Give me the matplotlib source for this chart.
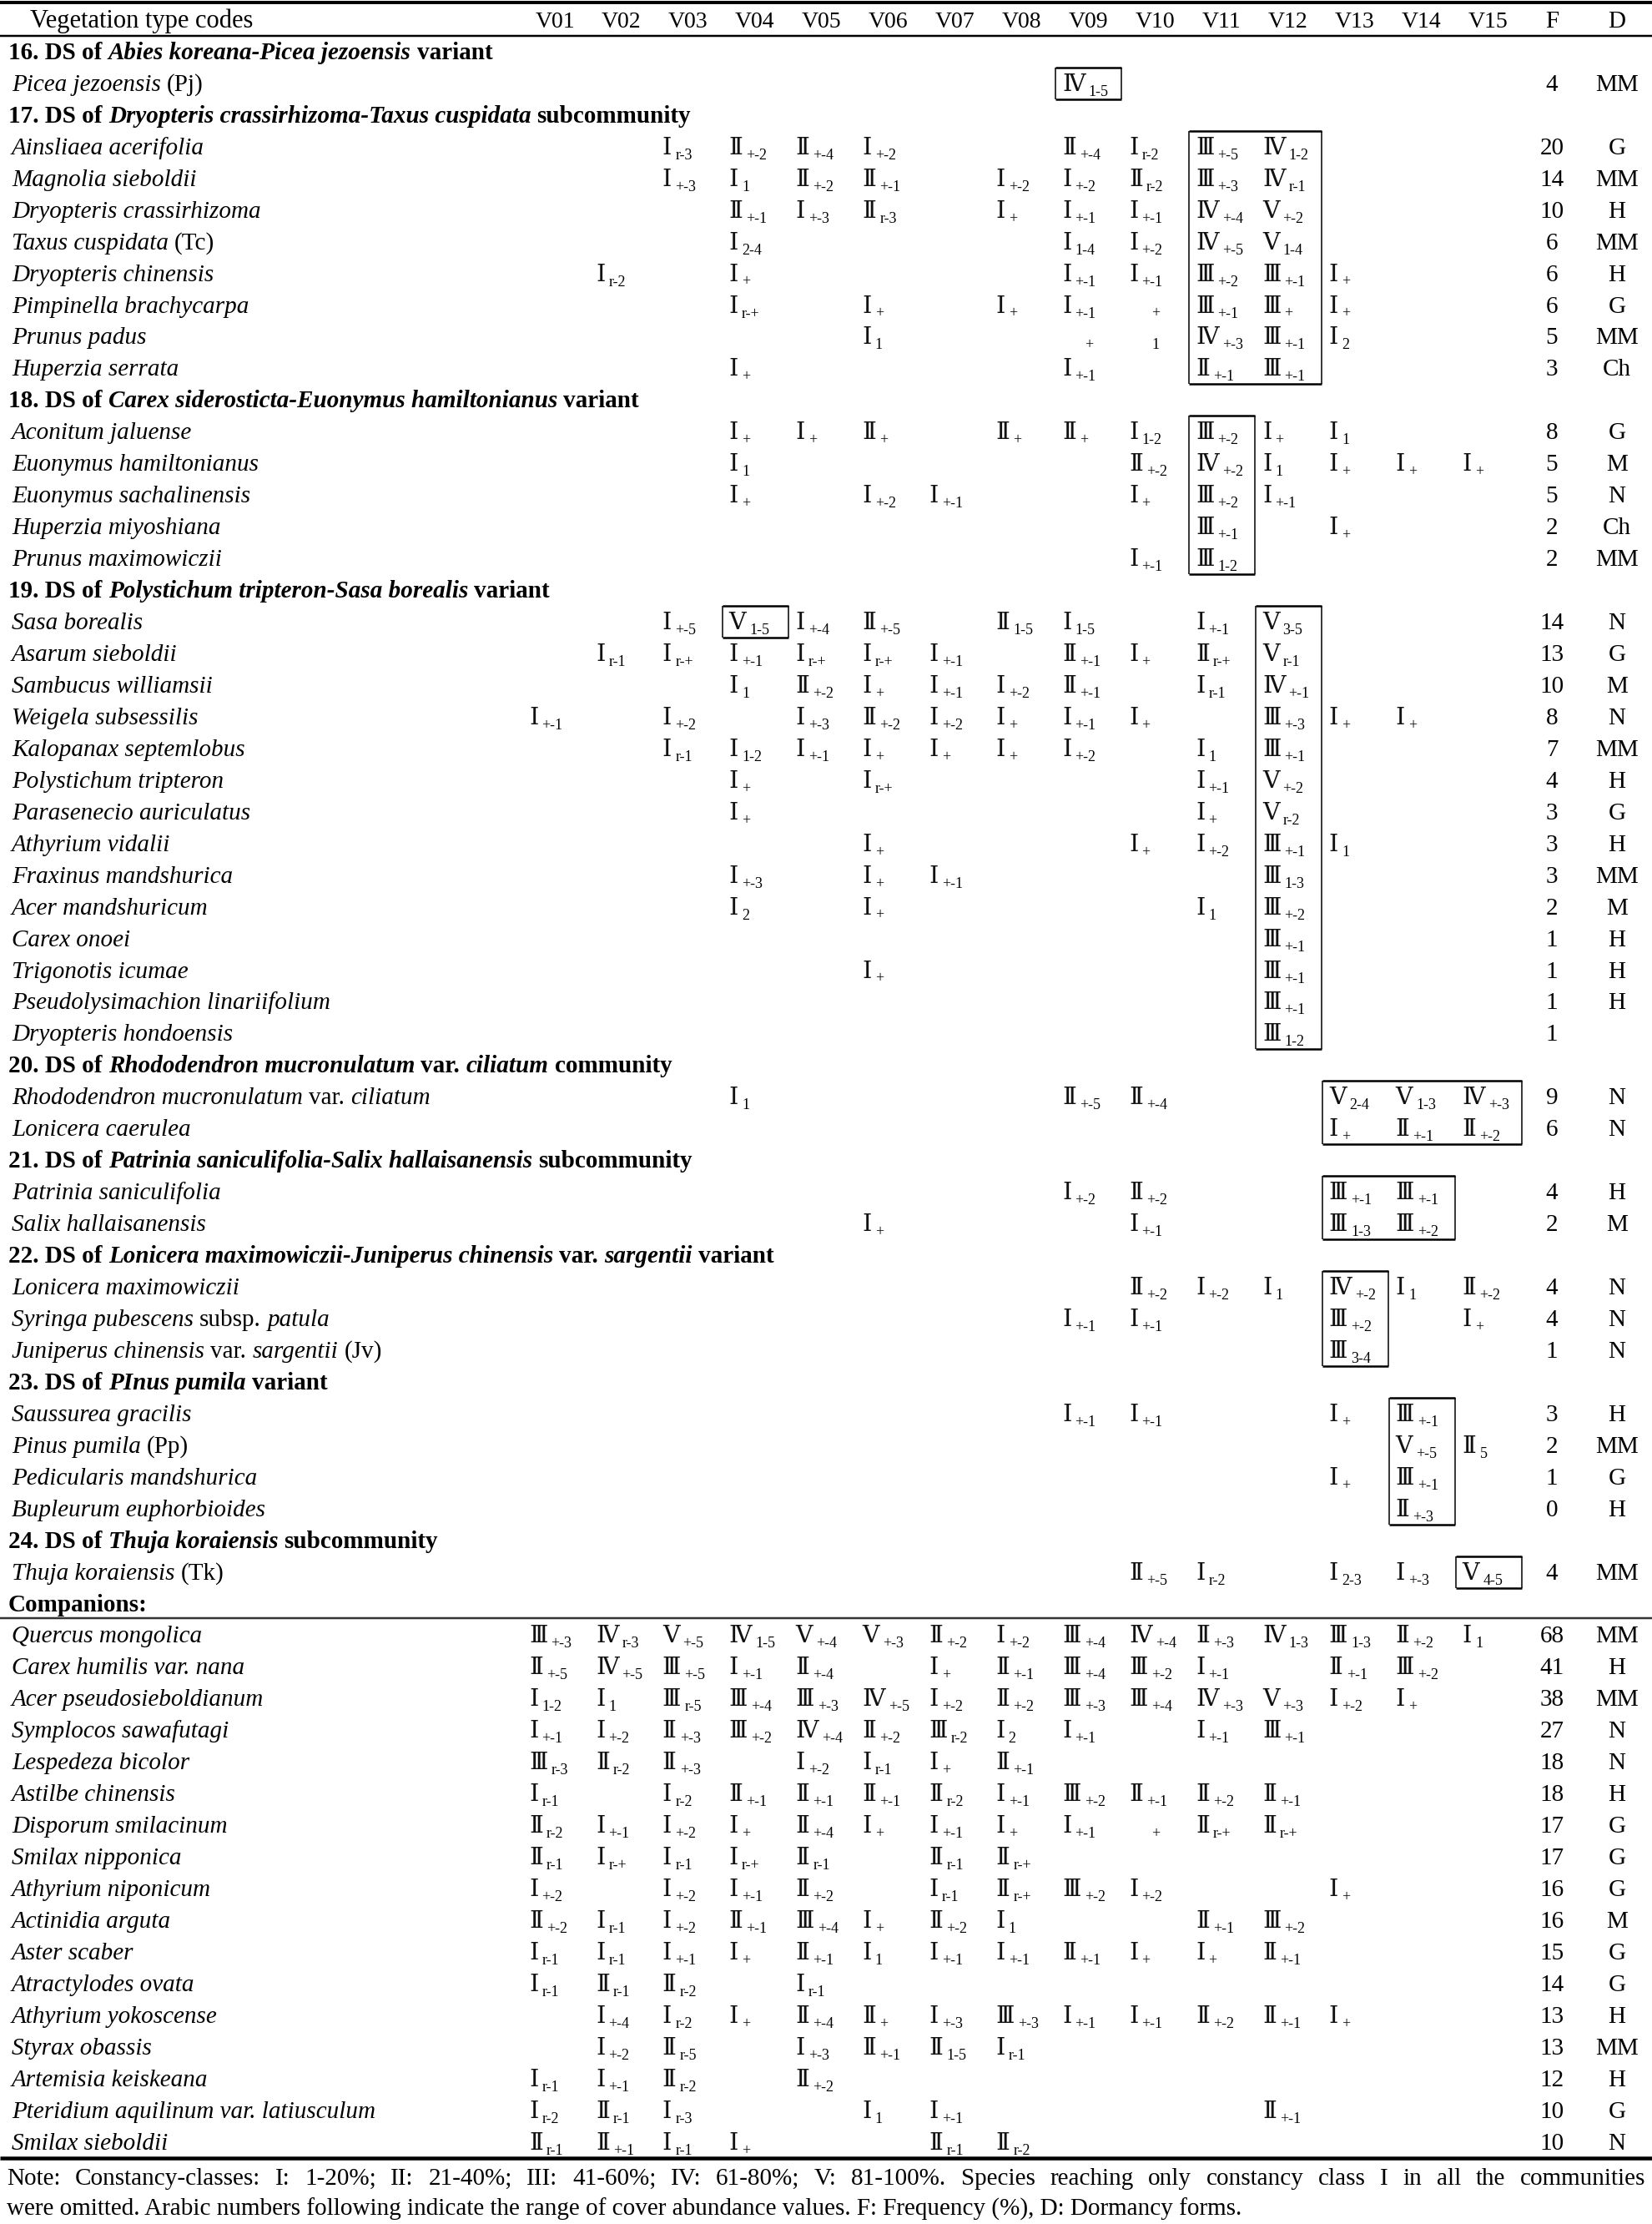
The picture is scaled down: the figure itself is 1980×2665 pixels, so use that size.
import matplotlib
matplotlib.use("Agg")
import matplotlib.pyplot as plt

# ---------------- data ----------------
columns = ["V01", "V02", "V03", "V04", "V05", "V06", "V07", "V08",
           "V09", "V10", "V11", "V12", "V13", "V14", "V15"]
header_label = "Vegetation type codes"
extra_columns = ["F", "D"]

# '§' marks a section title; '*' toggles italic
row_labels = [
    "§16. DS of *Abies koreana-Picea jezoensis* variant",
    "*Picea jezoensis* (Pj)",
    "§17. DS of *Dryopteris crassirhizoma-Taxus cuspidata* subcommunity",
    "*Ainsliaea acerifolia*",
    "*Magnolia sieboldii*",
    "*Dryopteris crassirhizoma*",
    "*Taxus cuspidata* (Tc)",
    "*Dryopteris chinensis*",
    "*Pimpinella brachycarpa*",
    "*Prunus padus*",
    "*Huperzia serrata*",
    "§18. DS of *Carex siderosticta-Euonymus hamiltonianus* variant",
    "*Aconitum jaluense*",
    "*Euonymus hamiltonianus*",
    "*Euonymus sachalinensis*",
    "*Huperzia miyoshiana*",
    "*Prunus maximowiczii*",
    "§19. DS of *Polystichum tripteron-Sasa borealis* variant",
    "*Sasa borealis*",
    "*Asarum sieboldii*",
    "*Sambucus williamsii*",
    "*Weigela subsessilis*",
    "*Kalopanax septemlobus*",
    "*Polystichum tripteron*",
    "*Parasenecio auriculatus*",
    "*Athyrium vidalii*",
    "*Fraxinus mandshurica*",
    "*Acer mandshuricum*",
    "*Carex onoei*",
    "*Trigonotis icumae*",
    "*Pseudolysimachion linariifolium*",
    "*Dryopteris hondoensis*",
    "§20. DS of *Rhododendron mucronulatum* var. *ciliatum* community",
    "*Rhododendron mucronulatum* var. *ciliatum*",
    "*Lonicera caerulea*",
    "§21. DS of *Patrinia saniculifolia-Salix hallaisanensis* subcommunity",
    "*Patrinia saniculifolia*",
    "*Salix hallaisanensis*",
    "§22. DS of *Lonicera maximowiczii-Juniperus chinensis* var. *sargentii* variant",
    "*Lonicera maximowiczii*",
    "*Syringa pubescens* subsp. *patula*",
    "*Juniperus chinensis* var. *sargentii* (Jv)",
    "§23. DS of *PInus pumila* variant",
    "*Saussurea gracilis*",
    "*Pinus pumila* (Pp)",
    "*Pedicularis mandshurica*",
    "*Bupleurum euphorbioides*",
    "§24. DS of *Thuja koraiensis* subcommunity",
    "*Thuja koraiensis* (Tk)",
    "§Companions:",
    "*Quercus mongolica*",
    "*Carex humilis var. nana*",
    "*Acer pseudosieboldianum*",
    "*Symplocos sawafutagi*",
    "*Lespedeza bicolor*",
    "*Astilbe chinensis*",
    "*Disporum smilacinum*",
    "*Smilax nipponica*",
    "*Athyrium niponicum*",
    "*Actinidia arguta*",
    "*Aster scaber*",
    "*Atractylodes ovata*",
    "*Athyrium yokoscense*",
    "*Styrax obassis*",
    "*Artemisia keiskeana*",
    "*Pteridium aquilinum var. latiusculum*",
    "*Smilax sieboldii*",
]

# constancy class + cover range per vegetation type ('_' = no class shown)
row_cells = [
    None,
    "V09=IV 1-5",
    None,
    "V03=I r-3; V04=II +-2; V05=II +-4; V06=I +-2; V09=II +-4; V10=I r-2; V11=III +-5; V12=IV 1-2",
    "V03=I +-3; V04=I 1; V05=II +-2; V06=II +-1; V08=I +-2; V09=I +-2; V10=II r-2; V11=III +-3; V12=IV r-1",
    "V04=II +-1; V05=I +-3; V06=II r-3; V08=I +; V09=I +-1; V10=I +-1; V11=IV +-4; V12=V +-2",
    "V04=I 2-4; V09=I 1-4; V10=I +-2; V11=IV +-5; V12=V 1-4",
    "V02=I r-2; V04=I +; V09=I +-1; V10=I +-1; V11=III +-2; V12=III +-1; V13=I +",
    "V04=I r-+; V06=I +; V08=I +; V09=I +-1; V10=_ +; V11=III +-1; V12=III +; V13=I +",
    "V06=I 1; V09=_ +; V10=_ 1; V11=IV +-3; V12=III +-1; V13=I 2",
    "V04=I +; V09=I +-1; V11=II +-1; V12=III +-1",
    None,
    "V04=I +; V05=I +; V06=II +; V08=II +; V09=II +; V10=I 1-2; V11=III +-2; V12=I +; V13=I 1",
    "V04=I 1; V10=II +-2; V11=IV +-2; V12=I 1; V13=I +; V14=I +; V15=I +",
    "V04=I +; V06=I +-2; V07=I +-1; V10=I +; V11=III +-2; V12=I +-1",
    "V11=III +-1; V13=I +",
    "V10=I +-1; V11=III 1-2",
    None,
    "V03=I +-5; V04=V 1-5; V05=I +-4; V06=II +-5; V08=II 1-5; V09=I 1-5; V11=I +-1; V12=V 3-5",
    "V02=I r-1; V03=I r-+; V04=I +-1; V05=I r-+; V06=I r-+; V07=I +-1; V09=II +-1; V10=I +; V11=II r-+; V12=V r-1",
    "V04=I 1; V05=II +-2; V06=I +; V07=I +-1; V08=I +-2; V09=II +-1; V11=I r-1; V12=IV +-1",
    "V01=I +-1; V03=I +-2; V05=I +-3; V06=II +-2; V07=I +-2; V08=I +; V09=I +-1; V10=I +; V12=III +-3; V13=I +; V14=I +",
    "V03=I r-1; V04=I 1-2; V05=I +-1; V06=I +; V07=I +; V08=I +; V09=I +-2; V11=I 1; V12=III +-1",
    "V04=I +; V06=I r-+; V11=I +-1; V12=V +-2",
    "V04=I +; V11=I +; V12=V r-2",
    "V06=I +; V10=I +; V11=I +-2; V12=III +-1; V13=I 1",
    "V04=I +-3; V06=I +; V07=I +-1; V12=III 1-3",
    "V04=I 2; V06=I +; V11=I 1; V12=III +-2",
    "V12=III +-1",
    "V06=I +; V12=III +-1",
    "V12=III +-1",
    "V12=III 1-2",
    None,
    "V04=I 1; V09=II +-5; V10=II +-4; V13=V 2-4; V14=V 1-3; V15=IV +-3",
    "V13=I +; V14=II +-1; V15=II +-2",
    None,
    "V09=I +-2; V10=II +-2; V13=III +-1; V14=III +-1",
    "V06=I +; V10=I +-1; V13=III 1-3; V14=III +-2",
    None,
    "V10=II +-2; V11=I +-2; V12=I 1; V13=IV +-2; V14=I 1; V15=II +-2",
    "V09=I +-1; V10=I +-1; V13=III +-2; V15=I +",
    "V13=III 3-4",
    None,
    "V09=I +-1; V10=I +-1; V13=I +; V14=III +-1",
    "V14=V +-5; V15=II 5",
    "V13=I +; V14=III +-1",
    "V14=II +-3",
    None,
    "V10=II +-5; V11=I r-2; V13=I 2-3; V14=I +-3; V15=V 4-5",
    None,
    "V01=III +-3; V02=IV r-3; V03=V +-5; V04=IV 1-5; V05=V +-4; V06=V +-3; V07=II +-2; V08=I +-2; V09=III +-4; V10=IV +-4; V11=II +-3; V12=IV 1-3; V13=III 1-3; V14=II +-2; V15=I 1",
    "V01=II +-5; V02=IV +-5; V03=III +-5; V04=I +-1; V05=II +-4; V07=I +; V08=II +-1; V09=III +-4; V10=III +-2; V11=I +-1; V13=II +-1; V14=III +-2",
    "V01=I 1-2; V02=I 1; V03=III r-5; V04=III +-4; V05=III +-3; V06=IV +-5; V07=I +-2; V08=II +-2; V09=III +-3; V10=III +-4; V11=IV +-3; V12=V +-3; V13=I +-2; V14=I +",
    "V01=I +-1; V02=I +-2; V03=II +-3; V04=III +-2; V05=IV +-4; V06=II +-2; V07=III r-2; V08=I 2; V09=I +-1; V11=I +-1; V12=III +-1",
    "V01=III r-3; V02=II r-2; V03=II +-3; V05=I +-2; V06=I r-1; V07=I +; V08=II +-1",
    "V01=I r-1; V03=I r-2; V04=II +-1; V05=II +-1; V06=II +-1; V07=II r-2; V08=I +-1; V09=III +-2; V10=II +-1; V11=II +-2; V12=II +-1",
    "V01=II r-2; V02=I +-1; V03=I +-2; V04=I +; V05=II +-4; V06=I +; V07=I +-1; V08=I +; V09=I +-1; V10=_ +; V11=II r-+; V12=II r-+",
    "V01=II r-1; V02=I r-+; V03=I r-1; V04=I r-+; V05=II r-1; V07=II r-1; V08=II r-+",
    "V01=I +-2; V03=I +-2; V04=I +-1; V05=II +-2; V07=I r-1; V08=II r-+; V09=III +-2; V10=I +-2; V13=I +",
    "V01=II +-2; V02=I r-1; V03=I +-2; V04=II +-1; V05=III +-4; V06=I +; V07=II +-2; V08=I 1; V11=II +-1; V12=III +-2",
    "V01=I r-1; V02=I r-1; V03=I +-1; V04=I +; V05=II +-1; V06=I 1; V07=I +-1; V08=I +-1; V09=II +-1; V10=I +; V11=I +; V12=II +-1",
    "V01=I r-1; V02=II r-1; V03=II r-2; V05=I r-1",
    "V02=I +-4; V03=I r-2; V04=I +; V05=II +-4; V06=II +; V07=I +-3; V08=III +-3; V09=I +-1; V10=I +-1; V11=II +-2; V12=II +-1; V13=I +",
    "V02=I +-2; V03=II r-5; V05=I +-3; V06=II +-1; V07=II 1-5; V08=I r-1",
    "V01=I r-1; V02=I +-1; V03=II r-2; V05=II +-2",
    "V01=I r-2; V02=II r-1; V03=I r-3; V06=I 1; V07=I +-1; V12=II +-1",
    "V01=II r-1; V02=II +-1; V03=I r-1; V04=I +; V07=II r-1; V08=II r-2",
]

row_freq = [None, 4, None, 20, 14, 10, 6, 6, 6, 5, 3, None, 8, 5, 5, 2, 2,
            None, 14, 13, 10, 8, 7, 4, 3, 3, 3, 2, 1, 1, 1, 1,
            None, 9, 6, None, 4, 2, None, 4, 4, 1, None, 3, 2, 1, 0,
            None, 4, None, 68, 41, 38, 27, 18, 18, 17, 17, 16, 16, 15, 14,
            13, 13, 12, 10, 10]
row_dorm = ["", "MM", "", "G", "MM", "H", "MM", "H", "G", "MM", "Ch", "", "G", "M",
            "N", "Ch", "MM", "", "N", "G", "M", "N", "MM", "H", "G", "H", "MM",
            "M", "H", "H", "H", "", "", "N", "N", "", "H", "M", "", "N", "N",
            "N", "", "H", "MM", "G", "H", "", "MM", "", "MM", "H", "MM", "N",
            "N", "H", "G", "G", "G", "M", "G", "G", "H", "MM", "H", "G", "N"]

# diagnostic blocks framed in the table: (first species, last species, first col, last col)
framed_blocks = [
    ("Picea jezoensis", "Picea jezoensis", "V09", "V09"),
    ("Ainsliaea acerifolia", "Huperzia serrata", "V11", "V12"),
    ("Aconitum jaluense", "Prunus maximowiczii", "V11", "V11"),
    ("Sasa borealis", "Sasa borealis", "V04", "V04"),
    ("Sasa borealis", "Dryopteris hondoensis", "V12", "V12"),
    ("Rhododendron mucronulatum", "Lonicera caerulea", "V13", "V15"),
    ("Patrinia saniculifolia", "Salix hallaisanensis", "V13", "V14"),
    ("Lonicera maximowiczii", "Juniperus chinensis", "V13", "V13"),
    ("Saussurea gracilis", "Bupleurum euphorbioides", "V14", "V14"),
    ("Thuja koraiensis", "Thuja koraiensis", "V15", "V15"),
]

note_line1 = ("Note: Constancy-classes: I: 1-20%; II: 21-40%; III: 41-60%; IV: 61-80%; "
              "V: 81-100%. Species reaching only constancy class I in all the communities")
note_line2 = ("were omitted. Arabic numbers following indicate the range of cover "
              "abundance values. F: Frequency (%), D: Dormancy forms.")

ROMAN = {"I": "\u2160", "II": "\u2161", "III": "\u2162", "IV": "\u2163", "V": "\u2164"}

# ---------------- layout ----------------
W, H, DPI = 1980, 2665, 100
SERIF = ["Liberation Serif", "DejaVu Serif"]
NUMF = ["Liberation Serif", "DejaVu Serif", "Noto Sans CJK KR"]
FS, SUBFS = 21, 13
X_LABEL = 14
COL0, COLSTEP = 665, 79.9
F_X, D_X = 1860, 1938
Y0, ROWSTEP = 24, 37.95
BASE = 9  # baseline offset below row centre

fig = plt.figure(figsize=(W / DPI, H / DPI), dpi=DPI)
ax = fig.add_axes([0, 0, 1, 1])
ax.set_xlim(0, W)
ax.set_ylim(H, 0)
ax.axis("off")
renderer = fig.canvas.get_renderer()


def col_x(name):
    return COL0 + COLSTEP * columns.index(name)


def row_y(k):
    return Y0 + ROWSTEP * k


def width_of(s, **kw):
    t = ax.text(0, 0, s, **kw)
    w = t.get_window_extent(renderer).width
    t.remove()
    return w


def draw_segments(x, y, text, bold):
    segs, buf, ital = [], "", False
    for ch in text:
        if ch == "*":
            if buf:
                segs.append((buf, ital))
            buf, ital = "", not ital
        else:
            buf += ch
    if buf:
        segs.append((buf, ital))
    weight = "bold" if bold else "normal"
    for s, it in segs:
        style = "italic" if it else "normal"
        kw = dict(fontsize=FS, family=SERIF, fontstyle=style, fontweight=weight)
        sp = width_of("n n", **kw) - width_of("nn", **kw)
        lead = len(s) - len(s.lstrip(" "))
        trail = len(s) - len(s.rstrip(" "))
        x += lead * sp
        core = s.strip(" ")
        if core:
            t = ax.text(x, y, core, va="baseline", ha="left", color="black", **kw)
            x = t.get_window_extent(renderer).x1
        x += trail * sp
    return x


def draw_cell(cx, y, val):
    num, sub = val.split(" ", 1)
    left = cx - 31
    if num == "_":
        ax.text(left + 27, y + 6, sub, fontsize=SUBFS, family=SERIF,
                va="baseline", ha="left")
        return
    t = ax.text(left, y, ROMAN[num], fontsize=FS - 0.5, family=NUMF,
                va="baseline", ha="left", color="#111111")
    x1 = t.get_window_extent(renderer).x1
    ax.text(x1 + 4, y + 6, sub, fontsize=SUBFS, family=SERIF,
            va="baseline", ha="left")


def hline(y, lw_px, color="black"):
    ax.plot([0, W], [y, y], color=color, lw=lw_px * 0.72, solid_capstyle="butt")


# rules
hline(3, 4)
hline(43, 2.5)
hline(row_y(51) - 20, 2.5, "#333333")
hline(row_y(68) - 19, 4.5)

# header
yb = row_y(0) + BASE
ax.text(X_LABEL + 22, yb, header_label, fontsize=FS + 1, family=SERIF, va="baseline", ha="left")
for c in columns:
    ax.text(col_x(c), yb, c, fontsize=FS - 1, family=SERIF, va="baseline", ha="center")
ax.text(F_X, yb, extra_columns[0], fontsize=FS, family=SERIF, va="baseline", ha="center")
ax.text(D_X, yb, extra_columns[1], fontsize=FS, family=SERIF, va="baseline", ha="center")

# body
for k, lab in enumerate(row_labels):
    y = row_y(k + 1) + BASE
    if lab.startswith("§"):
        draw_segments(X_LABEL - 4, y, lab[1:], bold=True)
        continue
    draw_segments(X_LABEL, y, lab, bold=False)
    cells = row_cells[k]
    if cells:
        for item in cells.split(";"):
            c, v = item.strip().split("=")
            draw_cell(col_x(c), y, v)
    if row_freq[k] is not None:
        ax.text(F_X, y, str(row_freq[k]), fontsize=FS, family=SERIF, va="baseline", ha="center")
    if row_dorm[k]:
        ax.text(D_X, y, row_dorm[k], fontsize=FS, family=SERIF, va="baseline", ha="center")

# frames
plain = [l.replace("*", "") for l in row_labels]


def find_row(name):
    for i, p in enumerate(plain):
        if p.startswith(name):
            return i + 1
    raise ValueError(name)


for a, b, c1, c2 in framed_blocks:
    r1, r2 = find_row(a), find_row(b)
    x0 = col_x(c1) - 39
    x1 = col_x(c2) + 40
    y0 = row_y(r1) - 19
    y1 = row_y(r2) + 19
    ax.plot([x0, x0], [y0, y1], color="black", lw=1.1, solid_capstyle="butt")
    ax.plot([x1, x1], [y0, y1], color="black", lw=1.1, solid_capstyle="butt")
    ax.plot([x0, x1], [y0, y0], color="black", lw=1.8, solid_capstyle="butt")
    ax.plot([x0, x1], [y1, y1], color="black", lw=1.8, solid_capstyle="butt")

# note (first line justified)
ny1, ny2 = 2618, 2655
words = note_line1.split(" ")
kw = dict(fontsize=FS, family=SERIF)
widths = [width_of(w, **kw) for w in words]
left, right = 8, 1972
gap = (right - left - sum(widths)) / (len(words) - 1)
x = left
for w, wd in zip(words, widths):
    ax.text(x, ny1, w, va="baseline", ha="left", **kw)
    x += wd + gap
ax.text(left, ny2, note_line2, va="baseline", ha="left", **kw)

fig.savefig("out.png", dpi=DPI, facecolor="white")
